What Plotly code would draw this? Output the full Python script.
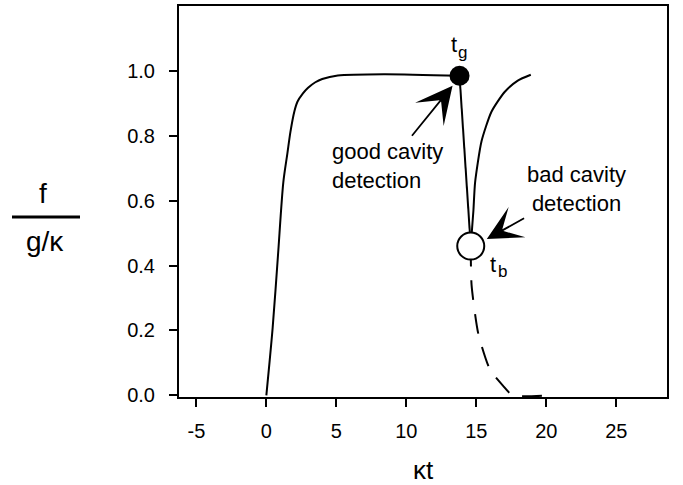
import plotly.graph_objects as go

# ---- data ----
rise_t = [0.0, 0.45, 0.83, 1.21, 1.5, 1.72, 2.0, 2.22, 2.6, 2.98, 3.5, 3.99, 5.1, 8.4, 13.8]
rise_f = [0.0, 0.208, 0.431, 0.656, 0.745, 0.812, 0.875, 0.905, 0.93, 0.948, 0.965, 0.975, 0.986, 0.99, 0.985]

drop_t = [13.8, 14.6]
drop_f = [0.985, 0.46]

recover_t = [14.6, 14.79, 14.91, 15.37, 16.08, 17.02, 17.96, 18.89]
recover_f = [0.46, 0.569, 0.656, 0.783, 0.874, 0.935, 0.970, 0.988]

decay_t = [14.6, 14.66, 15.14, 15.98, 16.9, 17.6, 20.0]
decay_f = [0.46, 0.34, 0.19, 0.079, 0.03, 0.0, 0.0]

tg_point = (13.8, 0.985)
tb_point = (14.6, 0.46)

x_ticks = [-5, 0, 5, 10, 15, 20, 25]
x_labels = ["-5", "0", "5", "10", "15", "20", "25"]
y_ticks = [0.0, 0.2, 0.4, 0.6, 0.8, 1.0]

FONT = "Liberation Sans, Arial, Helvetica, sans-serif"

W, H = 683, 485
ML, MR, MT, MB = 179, 16, 6, 88
PW, PH = W - ML - MR, H - MT - MB


def px2paper(px, py):
    return (px - ML) / PW, (H - MB - py) / PH


fig = go.Figure()

line_style = dict(color="black", width=2)
fig.add_trace(go.Scatter(x=rise_t, y=rise_f, mode="lines",
                         line=dict(shape="spline", smoothing=0.8, **line_style)))
fig.add_trace(go.Scatter(x=drop_t, y=drop_f, mode="lines", line=line_style))
fig.add_trace(go.Scatter(x=recover_t, y=recover_f, mode="lines",
                         line=dict(shape="spline", smoothing=0.6, **line_style)))
fig.add_trace(go.Scatter(x=decay_t, y=decay_f, mode="lines",
                         line=dict(color="black", width=2, dash="20px,14px",
                                   shape="spline", smoothing=0.6)))
fig.add_trace(go.Scatter(x=[tg_point[0]], y=[tg_point[1]], mode="markers",
                         marker=dict(size=20, color="black",
                                     line=dict(color="black", width=0))))
fig.add_trace(go.Scatter(x=[tb_point[0]], y=[tb_point[1]], mode="markers",
                         marker=dict(size=27, color="white",
                                     line=dict(color="black", width=2))))

annotations = []

# labels with arrows (arrow tip in data coords, text offset in pixels)
annotations.append(dict(x=tg_point[0] - 0.5, y=tg_point[1] - 0.031,
                        xref="x", yref="y", ax=-65, ay=80, showarrow=True,
                        arrowhead=3, arrowsize=3.4, arrowwidth=1.8,
                        arrowcolor="black", standoff=0, startstandoff=2,
                        text="good cavity<br>detection", align="left",
                        font=dict(family=FONT, size=22, color="black")))
annotations.append(dict(x=tb_point[0] + 1.15, y=tb_point[1] + 0.022,
                        xref="x", yref="y", ax=90, ay=-50, showarrow=True,
                        arrowhead=3, arrowsize=3.2, arrowwidth=1.8,
                        arrowcolor="black", standoff=0, startstandoff=2,
                        text="bad cavity<br>detection", align="center",
                        font=dict(family=FONT, size=22, color="black")))


def text_at(px, py, text, size, xanchor="center", yanchor="middle", align="center"):
    x, y = px2paper(px, py)
    annotations.append(dict(x=x, y=y, xref="paper", yref="paper", text=text,
                            showarrow=False, xanchor=xanchor, yanchor=yanchor,
                            align=align, font=dict(family=FONT, size=size, color="black")))


text_at(453.5, 44, "t", 22)
text_at(462.5, 52, "g", 17)
text_at(493, 264, "t", 22)
text_at(502, 271, "b", 17)
text_at(43, 194, "f", 28)
text_at(45, 242, "g/κ", 28)

x0, y0 = px2paper(12, 217)
x1, _ = px2paper(80, 217)

fig.update_layout(
    width=W, height=H,
    margin=dict(l=ML, r=MR, t=MT, b=MB),
    paper_bgcolor="white", plot_bgcolor="white",
    showlegend=False,
    font=dict(family=FONT, size=20, color="black"),
    annotations=annotations,
    shapes=[dict(type="line", xref="paper", yref="paper", x0=x0, x1=x1,
                 y0=y0, y1=y0, line=dict(color="black", width=3))],
    xaxis=dict(range=[-6.24, 28.62], tickvals=x_ticks, ticktext=x_labels,
               ticks="outside", automargin=False,
               ticklen=8, tickwidth=2, tickcolor="black", showline=True,
               linewidth=2, linecolor="black", mirror=True, showgrid=False,
               zeroline=False, ticklabelstandoff=7,
               tickfont=dict(family=FONT, size=20),
               title=dict(text="κt", standoff=22,
                          font=dict(family=FONT, size=26))),
    yaxis=dict(range=[-0.005, 1.2], tickvals=y_ticks, tickformat=".1f",
               ticks="outside", ticklen=8, tickwidth=2, tickcolor="black",
               showline=True, linewidth=2, linecolor="black", mirror=True,
               showgrid=False, zeroline=False, ticklabelstandoff=10,
               automargin=False,
               tickfont=dict(family=FONT, size=20)),
)

fig.write_html("out.html")
